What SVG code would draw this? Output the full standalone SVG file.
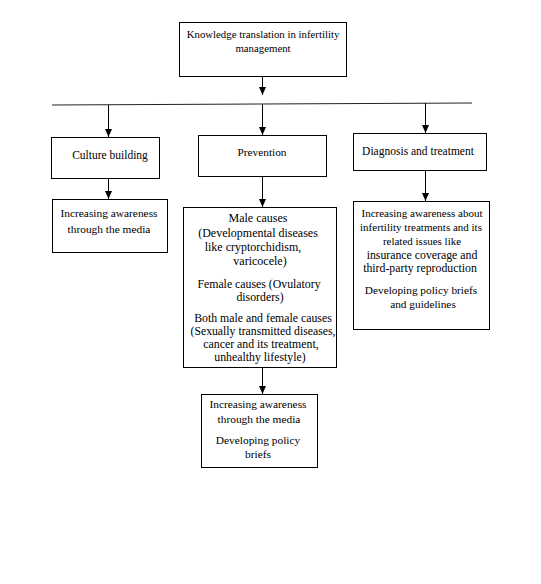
<svg xmlns="http://www.w3.org/2000/svg" width="541" height="584" viewBox="0 0 541 584">
<defs>
<marker id="ah" markerWidth="8" markerHeight="7" refX="8" refY="3.5" orient="auto" markerUnits="userSpaceOnUse" viewBox="0 0 8 7">
<path d="M0,0 L8,3.5 L0,7 Z" fill="#000"/>
</marker>
<style>
rect{fill:#fff;stroke:#000;stroke-width:1}
text{font-family:'Liberation Serif','Times New Roman','DejaVu Serif',serif;fill:#000;text-anchor:middle;font-size:11.5px}
.c line{stroke:#000;stroke-width:1}
.a{marker-end:url(#ah)}
</style>
</defs>
<rect x="0" y="0" width="541" height="584" style="fill:#fff;stroke:none"/>
<g class="c" id="connectors">
<line class="a" x1="262.5" y1="76" x2="262.5" y2="95"/>
<line x1="52" y1="105" x2="472" y2="103" style="stroke:#222"/>
<line class="a" x1="108.5" y1="105" x2="108.5" y2="137"/>
<line class="a" x1="262.5" y1="104" x2="262.5" y2="135"/>
<line class="a" x1="425.5" y1="103" x2="425.5" y2="133"/>
<line class="a" x1="108.5" y1="178" x2="108.5" y2="199"/>
<line class="a" x1="262.5" y1="176" x2="262.5" y2="207"/>
<line class="a" x1="425.5" y1="170" x2="425.5" y2="201"/>
<line class="a" x1="262.5" y1="367" x2="262.5" y2="394"/>
</g>
<g id="root">
<rect x="179.5" y="22.5" width="167" height="54"/>
<text x="263" y="38" style="font-size:10.8px">Knowledge translation in infertility</text>
<text x="263" y="52" style="font-size:10.8px">management</text>
</g>
<g id="culture">
<rect x="51.5" y="137.5" width="108" height="41"/>
<text x="110" y="159">Culture building</text>
</g>
<g id="prevention">
<rect x="198.5" y="135.5" width="128" height="41"/>
<text x="262" y="156" style="font-size:11.3px">Prevention</text>
</g>
<g id="diagnosis">
<rect x="353.5" y="133.5" width="133" height="37"/>
<text x="418" y="155">Diagnosis and treatment</text>
</g>
<g id="culture-result">
<rect x="52.5" y="199.5" width="115" height="53"/>
<text x="109" y="217" style="font-size:11.4px">Increasing awareness</text>
<text x="109" y="233" style="font-size:11.4px">through the media</text>
</g>
<g id="prevention-causes">
<rect x="183.5" y="207.5" width="153" height="160"/>
<text x="258" y="222" style="font-size:12px">Male causes</text>
<text x="258" y="237" style="font-size:12px">(Developmental diseases</text>
<text x="253" y="251" style="font-size:12px">like cryptorchidism,</text>
<text x="260" y="265" style="font-size:12px">varicocele)</text>
<text x="259" y="288" style="font-size:11.8px">Female causes (Ovulatory</text>
<text x="260" y="301" style="font-size:11.8px">disorders)</text>
<text x="263" y="322" style="font-size:11.8px">Both male and female causes</text>
<text x="263" y="335" style="font-size:11.8px" textLength="145" lengthAdjust="spacingAndGlyphs">(Sexually transmitted diseases,</text>
<text x="261" y="348" style="font-size:11.8px">cancer and its treatment,</text>
<text x="260" y="361" style="font-size:11.8px">unhealthy lifestyle)</text>
</g>
<g id="diagnosis-result">
<rect x="353.5" y="201.5" width="136" height="128"/>
<text x="422" y="217" style="font-size:11px">Increasing awareness about</text>
<text x="421" y="231" style="font-size:11px">infertility treatments and its</text>
<text x="422" y="245" style="font-size:11px">related issues like</text>
<text x="422" y="259" style="font-size:11.8px">insurance coverage and</text>
<text x="420" y="272" style="font-size:11.8px">third-party reproduction</text>
<text x="421" y="294" style="font-size:11.3px">Developing policy briefs</text>
<text x="423" y="308" style="font-size:11.3px">and guidelines</text>
</g>
<g id="prevention-result">
<rect x="201.5" y="394.5" width="116" height="73"/>
<text x="258" y="408" style="font-size:11.4px">Increasing awareness</text>
<text x="259" y="423" style="font-size:11.4px">through the media</text>
<text x="258" y="444" style="font-size:11.4px">Developing policy</text>
<text x="258" y="458" style="font-size:11.4px">briefs</text>
</g>
</svg>
